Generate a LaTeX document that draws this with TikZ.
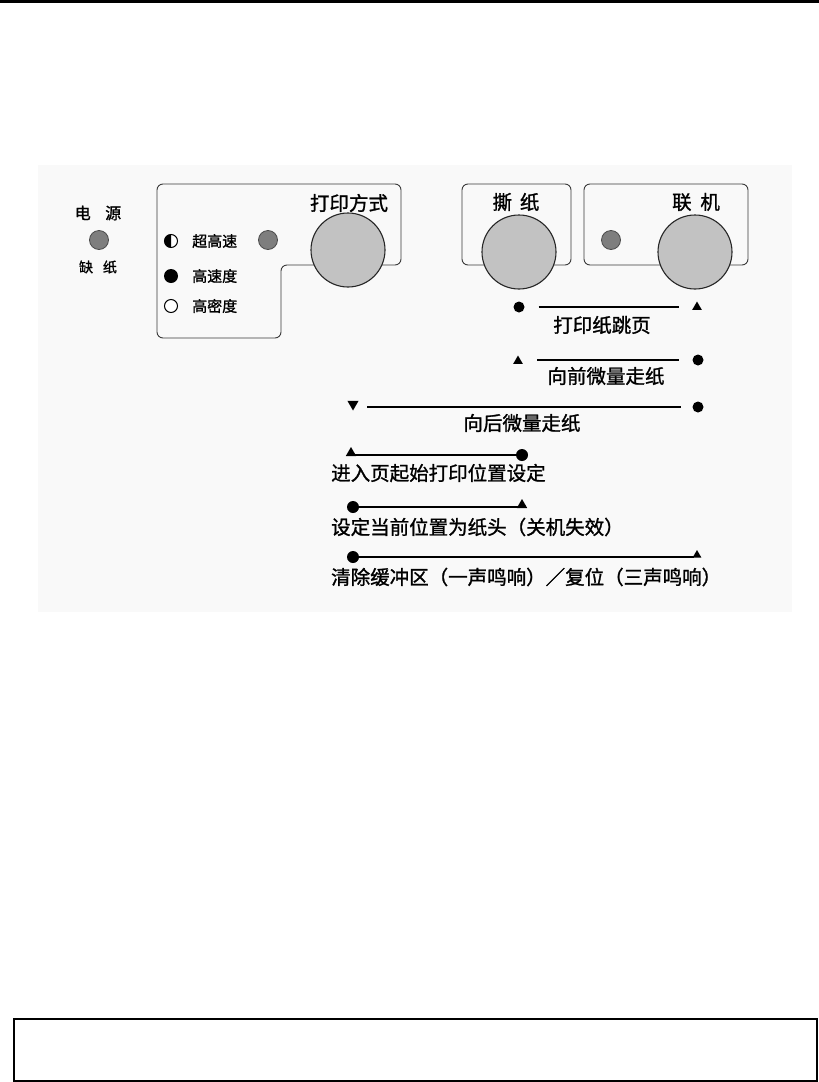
\documentclass[tikz,border=0pt]{standalone}
\usepackage{fontspec}
\newfontfamily\cjk[FakeBold=1.2]{Noto Sans CJK SC}
\usetikzlibrary{shapes.geometric}
\definecolor{panelline}{HTML}{3A3A3A}
\definecolor{knobfill}{HTML}{C2C2C2}
\definecolor{ledfill}{HTML}{7E7E7E}
\definecolor{bgfaint}{HTML}{F9F9F9}
\tikzset{
  panel/.style={draw=panelline, line width=0.9pt, rounded corners=6pt},
  knob/.style={circle, draw=black!85, line width=1.1pt, fill=knobfill, minimum size=74pt, inner sep=0pt},
  led/.style={circle, draw=black!70, line width=0.8pt, fill=ledfill, minimum size=19pt, inner sep=0pt},
  dotmark/.style={circle, fill=black, minimum size=#1, inner sep=0pt},
  dotmark/.default=11pt,
  trimark/.style={regular polygon, regular polygon sides=3, fill=black, minimum size=#1, inner sep=0pt},
  trimark/.default=12pt,
  lbl/.style={font=\cjk\fontsize{19.5pt}{22pt}\selectfont, inner sep=0pt},
  smalllbl/.style={font=\cjk\fontsize{15pt}{18pt}\selectfont, inner sep=0pt},
  rule/.style={line width=1.6pt},
}
\begin{document}
\begin{tikzpicture}[x=1pt,y=-1pt]
\useasboundingbox (0,0) rectangle (819,1082);
% faint background
\fill[bgfaint] (38,165) rectangle (792,612);
% top rule
\draw[line width=3pt] (0,1.5) -- (819,1.5);
% bottom box
\draw[line width=1.1pt] (14,1019) rectangle (817,1081);

% power
\node[font=\cjk\fontsize{16pt}{18pt}\selectfont, inner sep=0pt] (pwr) at (98,213) {电\hspace{0.9em}源};
\node[led] (pwrled) at (99,240) {};
\node[font=\cjk\fontsize{14pt}{16pt}\selectfont, inner sep=0pt] (paper) at (98,267) {缺\hspace{0.7em}纸};

% panel 1
\draw[panel] (157,184) -- (401,184) -- (401,265) -- (281,265) -- (281,338) -- (157,338) -- cycle;
\node[lbl] (mode) at (349,203) {打印方式};
\node[knob] (modeknob) at (348,250) {};
\node[led] (modeled) at (268,240) {};
\node[circle, draw=black, line width=1pt, fill=white, minimum size=13pt, inner sep=0pt] (halfc) at (171,241) {};
\fill (171,234.5) arc[start angle=90, end angle=270, radius=6.5pt] -- cycle;
\node[smalllbl, anchor=west] (t1) at (192,241) {超高速};
\node[circle, fill=black, minimum size=14pt, inner sep=0pt] (fullc) at (171,276) {};
\node[smalllbl, anchor=west] (t2) at (192,276) {高速度};
\node[circle, draw=black, line width=1pt, fill=white, minimum size=13pt, inner sep=0pt] (openc) at (171,306) {};
\node[smalllbl, anchor=west] (t3) at (192,306) {高密度};

% panel 2
\draw[panel] (462,184) rectangle (571,265);
\node[lbl] (tear) at (516,202) {撕\hspace{0.4em}纸};
\node[knob] (tearknob) at (519,252) {};

% panel 3
\draw[panel] (584,184) rectangle (748,265);
\node[lbl] (online) at (696,202) {联\hspace{0.45em}机};
\node[led] (onled) at (611,240) {};
\node[knob] (onknob) at (695,252) {};

% row 1
\node[dotmark] (r1a) at (519,307) {};
\node[trimark=11pt] (r1b) at (697,307) {};
\draw[rule, shorten <=14pt, shorten >=15pt] (r1a) -- (r1b);
\node[lbl] (r1t) at (602,325) {打印纸跳页};

% row 2
\node[trimark=11pt] (r2a) at (518,361) {};
\node[dotmark] (r2b) at (698,360) {};
\draw[rule, shorten <=19pt, shorten >=13pt] (r2a.center |- r2b) -- (r2b);
\node[lbl] (r2t) at (606,376) {向前微量走纸};

% row 3
\node[trimark=13pt, shape border rotate=180] (r3a) at (353,404) {};
\node[dotmark] (r3b) at (698,407) {};
\draw[rule, shorten <=14pt, shorten >=11pt] (r3a.center |- r3b) -- (r3b);
\node[lbl] (r3t) at (522,423) {向后微量走纸};

% row 4
\node[trimark=12pt] (r4a) at (351,453) {};
\node[dotmark=12pt] (r4b) at (522,455) {};
\draw[rule] (r4a.east |- r4b) -- (r4b);
\node[lbl, anchor=west] (r4t) at (331,473) {进入页起始打印位置设定};

% row 5
\node[dotmark=12pt] (r5a) at (353,507) {};
\node[trimark=12pt] (r5b) at (522,505) {};
\draw[rule] (r5a) -- (r5b.west |- r5a);
\node[lbl, anchor=west] (r5t) at (331,527) {设定当前位置为纸头（关机失效）};

% row 6
\node[dotmark=12pt] (r6a) at (353,557) {};
\node[trimark=10pt] (r6b) at (697,555) {};
\draw[rule] (r6a) -- (r6b.west |- r6a);
\node[lbl, anchor=west] (r6t) at (331,577) {清除缓冲区（一声鸣响）／复位（三声鸣响）};
\end{tikzpicture}
\end{document}
